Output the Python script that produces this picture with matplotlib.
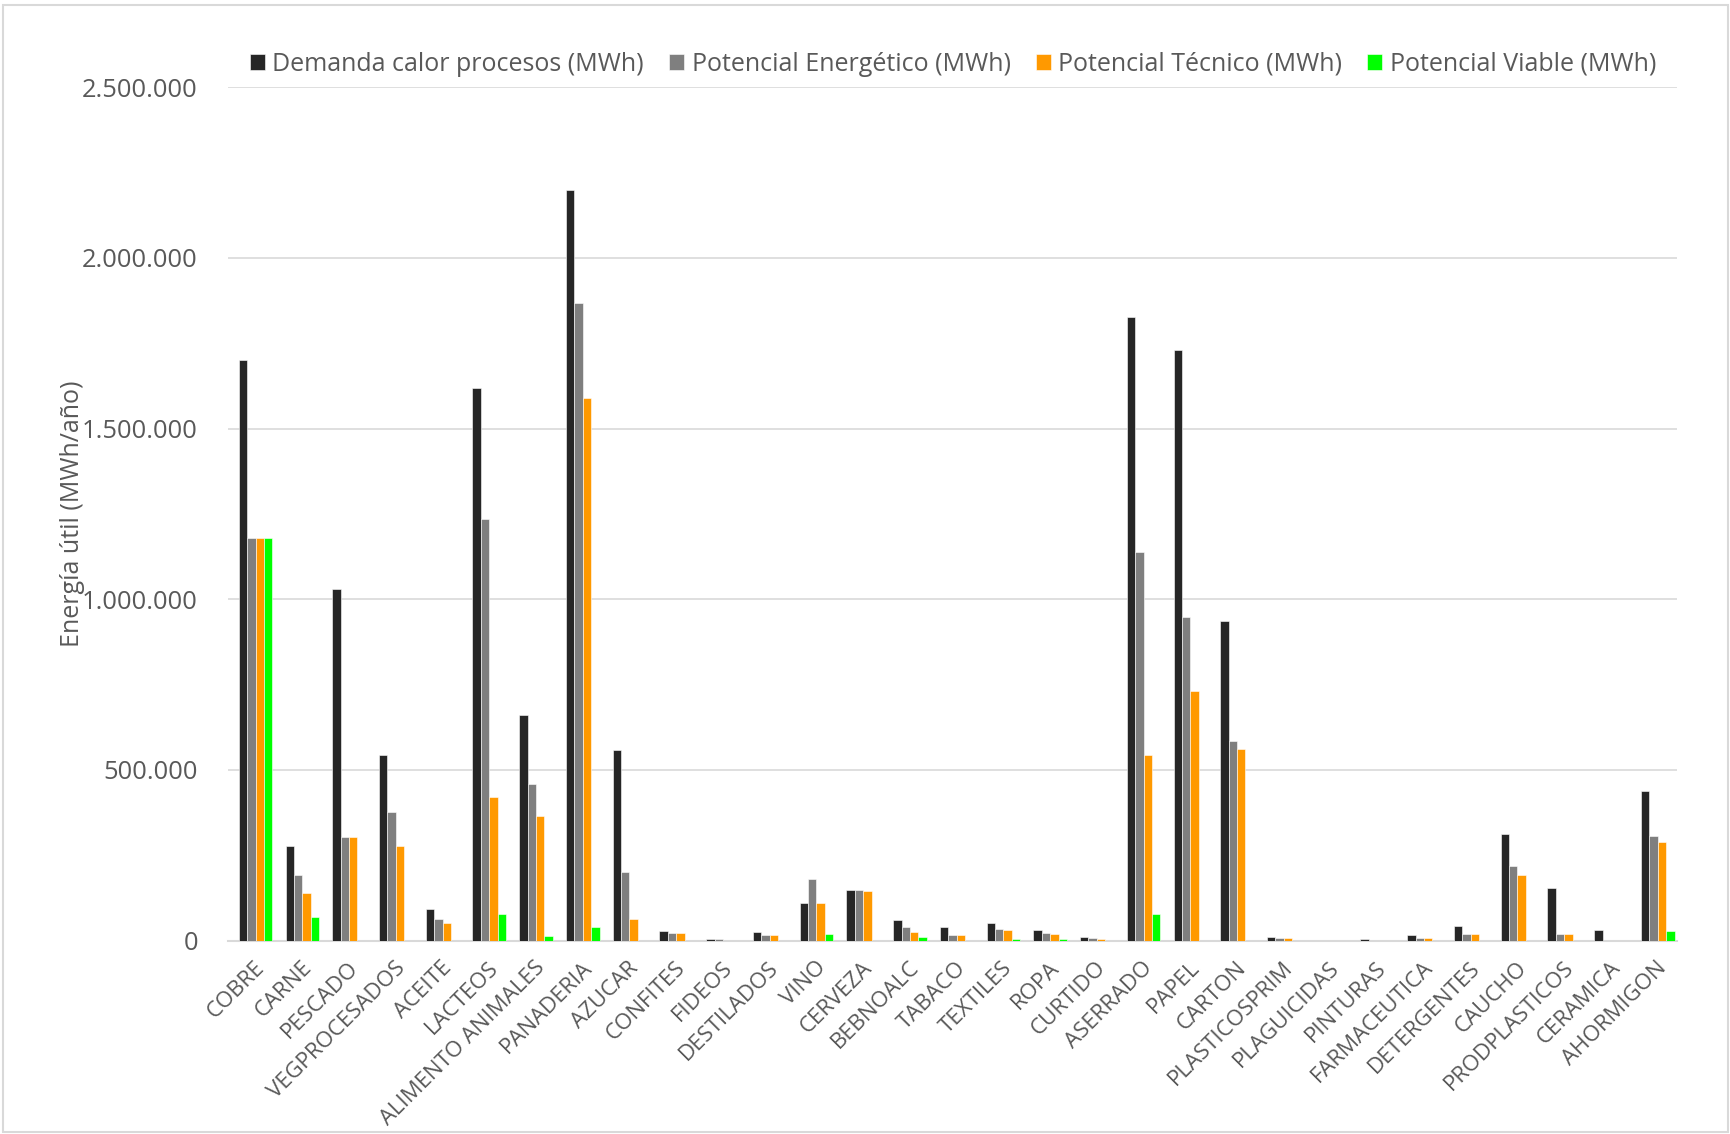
import numpy as np
import matplotlib
matplotlib.use("Agg")
import matplotlib.pyplot as plt
from matplotlib.ticker import FuncFormatter, MultipleLocator
from matplotlib.patches import Rectangle

plt.rcParams["font.family"] = ["Open Sans", "DejaVu Sans"]

# Sectores industriales
sectores = [
    "COBRE", "CARNE", "PESCADO", "VEGPROCESADOS", "ACEITE", "LACTEOS",
    "ALIMENTO ANIMALES", "PANADERIA", "AZUCAR", "CONFITES", "FIDEOS",
    "DESTILADOS", "VINO", "CERVEZA", "BEBNOALC", "TABACO", "TEXTILES",
    "ROPA", "CURTIDO", "ASERRADO", "PAPEL", "CARTON", "PLASTICOSPRIM",
    "PLAGUICIDAS", "PINTURAS", "FARMACEUTICA", "DETERGENTES", "CAUCHO",
    "PRODPLASTICOS", "CERAMICA", "AHORMIGON",
]

# Energía útil por sector (MWh/año)
demanda = [
    1700000, 278000, 1030000, 543000, 91000, 1618000,
    660000, 2200000, 557000, 27000, 4000,
    24000, 110000, 147000, 61000, 41000, 51000,
    30000, 11000, 1828000, 1731000, 935000, 11000,
    0, 4000, 15000, 42000, 311000,
    155000, 30000, 438000,
]
potencial_energetico = [
    1180000, 191000, 304000, 378000, 64000, 1236000,
    459000, 1869000, 200000, 21000, 4000,
    15000, 181000, 147000, 41000, 15000, 34000,
    21000, 7000, 1138000, 948000, 586000, 7000,
    0, 0, 7000, 20000, 218000,
    20000, 0, 305000,
]
potencial_tecnico = [
    1180000, 139000, 304000, 278000, 51000, 420000,
    365000, 1591000, 64000, 21000, 0,
    15000, 110000, 144000, 24000, 15000, 30000,
    18000, 4000, 543000, 731000, 560000, 7000,
    0, 0, 7000, 20000, 191000,
    20000, 0, 288000,
]
potencial_viable = [
    1180000, 68000, 0, 0, 0, 77000,
    14000, 41000, 0, 0, 0,
    0, 18000, 0, 11000, 0, 4000,
    4000, 0, 77000, 0, 0, 0,
    0, 0, 0, 0, 0,
    0, 0, 27000,
]

series = [
    ("Demanda calor procesos (MWh)", demanda, "#262626"),
    ("Potencial Energético (MWh)", potencial_energetico, "#7F7F7F"),
    ("Potencial Técnico (MWh)", potencial_tecnico, "#FF9900"),
    ("Potencial Viable (MWh)", potencial_viable, "#00FF00"),
]

texto = "#595959"

fig = plt.figure(figsize=(17.31, 11.34), dpi=100)
ax = fig.add_axes([0.132, 0.1706, 0.837, 0.7524])

x = np.arange(len(sectores))
ancho = 0.18
for i, (nombre, valores, color) in enumerate(series):
    ax.bar(x + (i - 1.5) * ancho + 0.08, valores, width=ancho, color=color,
           edgecolor="white", linewidth=0.4, label=nombre, zorder=3)

ax.set_xlim(-0.5, len(sectores) - 0.5)
ax.set_ylim(0, 2500000)
ax.yaxis.set_major_locator(MultipleLocator(500000))
ax.yaxis.set_major_formatter(FuncFormatter(lambda v, p: f"{int(v):,}".replace(",", ".")))
ax.grid(axis="y", color="#D9D9D9", linewidth=1.2, zorder=0)

for lado in ["top", "right", "left"]:
    ax.spines[lado].set_visible(False)
ax.spines["bottom"].set_color("#D9D9D9")
ax.spines["bottom"].set_linewidth(1.5)

ax.tick_params(axis="both", length=0, colors=texto)
ax.tick_params(axis="y", labelsize=18.4, pad=22)
ax.set_xticks(x + 0.05)
ax.set_xticklabels(sectores, rotation=45, ha="right", rotation_mode="anchor",
                   fontsize=16, color=texto)
ax.tick_params(axis="x", pad=12)

ax.set_ylabel("Energía útil (MWh/año)", fontsize=18, color=texto, labelpad=-2)

leg = ax.legend(loc="center", bbox_to_anchor=(0.5, 1.027), ncol=4, frameon=False,
                fontsize=18, handlelength=0.6, handleheight=0.6, handletextpad=0.3,
                columnspacing=1.0, labelcolor=texto)

# marco del gráfico
fig.patches.append(Rectangle((0.002, 0.002), 0.996, 0.994, transform=fig.transFigure,
                             fill=False, edgecolor="#D9D9D9", linewidth=1.5))

fig.savefig("out.png", dpi=100)
